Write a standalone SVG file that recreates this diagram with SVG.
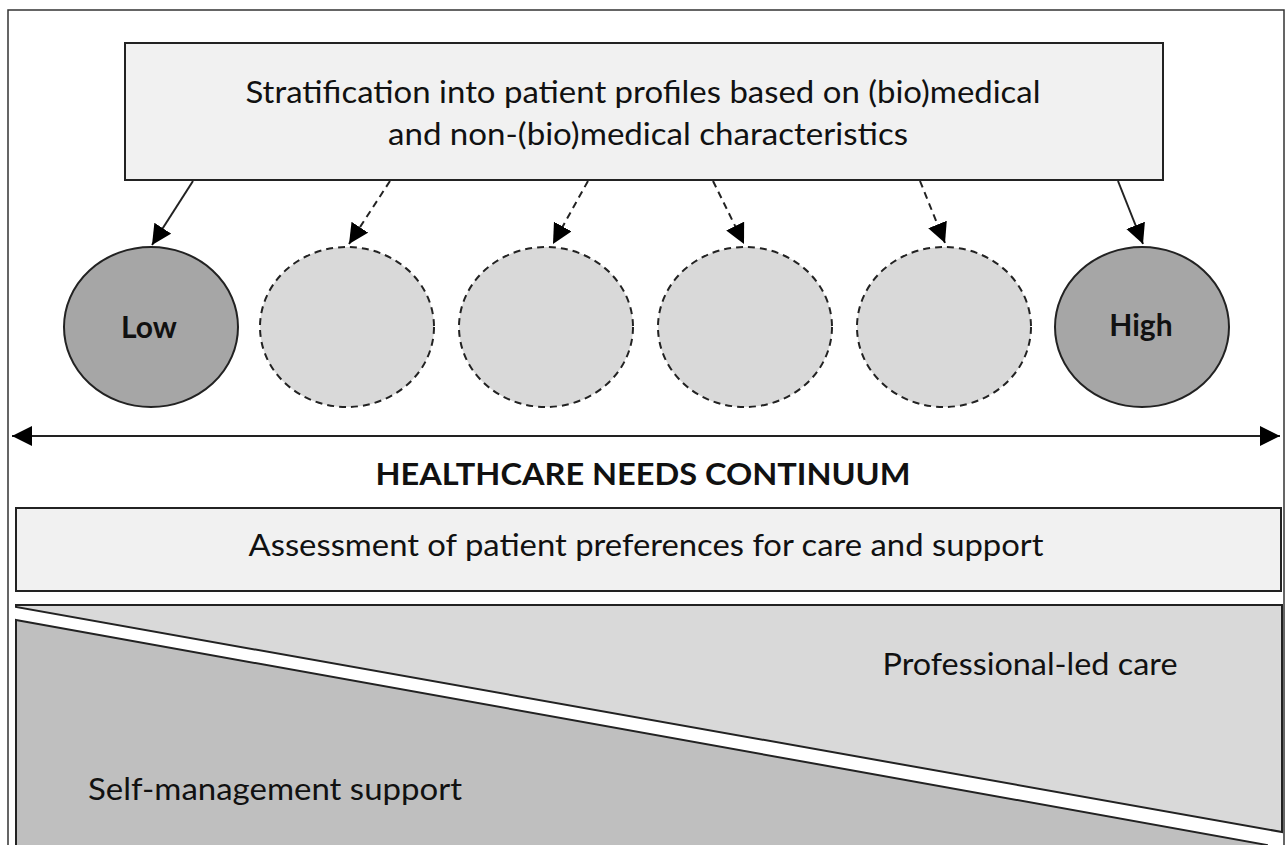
<svg xmlns="http://www.w3.org/2000/svg" width="1285" height="845" viewBox="0 0 1285 845">
<style>
.t{font-family:Lato,"Open Sans","Liberation Sans",sans-serif;font-size:30px;fill:#111}
.b{font-weight:bold}
.box{stroke:#222;stroke-width:2}
.dc{stroke:#222;stroke-width:2;stroke-dasharray:7 5;fill:#d9d9d9}
.solid{stroke:#222;stroke-width:2;fill:none}
.dash{stroke:#222;stroke-width:2;fill:none;stroke-dasharray:7 5}
</style>
<defs>
<marker id="ah2" viewBox="0 0 10 10" refX="10" refY="5" markerWidth="20" markerHeight="20" markerUnits="userSpaceOnUse" orient="auto-start-reverse"><path d="M0,0 L10,5 L0,10 z" fill="#000"/></marker>
</defs>
<rect x="0" y="0" width="1285" height="845" fill="#fff"/>
<rect x="8" y="10" width="1276" height="850" fill="none" stroke="#333" stroke-width="1.5"/>

<g id="stratification">
<rect class="box" x="125" y="43" width="1038" height="137" fill="#f1f1f1"/>
<text class="t" x="643" y="103" text-anchor="middle" textLength="795" lengthAdjust="spacingAndGlyphs">Stratification into patient profiles based on (bio)medical</text>
<text class="t" x="648" y="145" text-anchor="middle" textLength="520" lengthAdjust="spacingAndGlyphs">and non-(bio)medical characteristics</text>
</g>

<g id="low">
<ellipse class="box" cx="151" cy="327" rx="87" ry="80" fill="#a6a6a6"/>
<text class="t b" x="149" y="338" text-anchor="middle" font-size="28">Low</text>
</g>
<g id="p2"><ellipse class="dc" cx="347" cy="327" rx="87" ry="80"/></g>
<g id="p3"><ellipse class="dc" cx="546" cy="327" rx="87" ry="80"/></g>
<g id="p4"><ellipse class="dc" cx="745" cy="327" rx="87" ry="80"/></g>
<g id="p5"><ellipse class="dc" cx="944" cy="327" rx="87" ry="80"/></g>
<g id="high">
<ellipse class="box" cx="1142" cy="327" rx="87" ry="80" fill="#a6a6a6"/>
<text class="t b" x="1141" y="336" text-anchor="middle" font-size="28">High</text>
</g>

<g id="connectors">
<line class="solid" x1="193" y1="181" x2="152" y2="245" marker-end="url(#ah2)"/>
<line class="dash" x1="390" y1="181" x2="349" y2="244" marker-end="url(#ah2)"/>
<line class="dash" x1="588" y1="181" x2="553" y2="244" marker-end="url(#ah2)"/>
<line class="dash" x1="713" y1="181" x2="744" y2="244" marker-end="url(#ah2)"/>
<line class="dash" x1="920" y1="181" x2="945" y2="243" marker-end="url(#ah2)"/>
<line class="solid" x1="1118" y1="181" x2="1143" y2="244" marker-end="url(#ah2)"/>
<line class="solid" x1="12" y1="436" x2="1280" y2="436" marker-start="url(#ah2)" marker-end="url(#ah2)"/>
</g>

<g id="continuum">
<text class="t b" x="643" y="485" text-anchor="middle" textLength="535" lengthAdjust="spacingAndGlyphs">HEALTHCARE NEEDS CONTINUUM</text>
</g>

<g id="assessment">
<rect class="box" x="16" y="508" width="1265" height="83" fill="#f1f1f1"/>
<text class="t" x="646" y="556" text-anchor="middle" textLength="795" lengthAdjust="spacingAndGlyphs">Assessment of patient preferences for care and support</text>
</g>

<g id="professional">
<polygon class="box" points="16,605 1282,605 1282,832 16,607" fill="#d9d9d9"/>
<text class="t" x="1030" y="675" text-anchor="middle" textLength="295" lengthAdjust="spacingAndGlyphs">Professional-led care</text>
</g>
<g id="selfmanagement">
<polygon class="box" points="16,620 1267,845 1267,860 16,860" fill="#bfbfbf"/>
<text class="t" x="275" y="800" text-anchor="middle" textLength="374" lengthAdjust="spacingAndGlyphs">Self-management support</text>
</g>
</svg>
